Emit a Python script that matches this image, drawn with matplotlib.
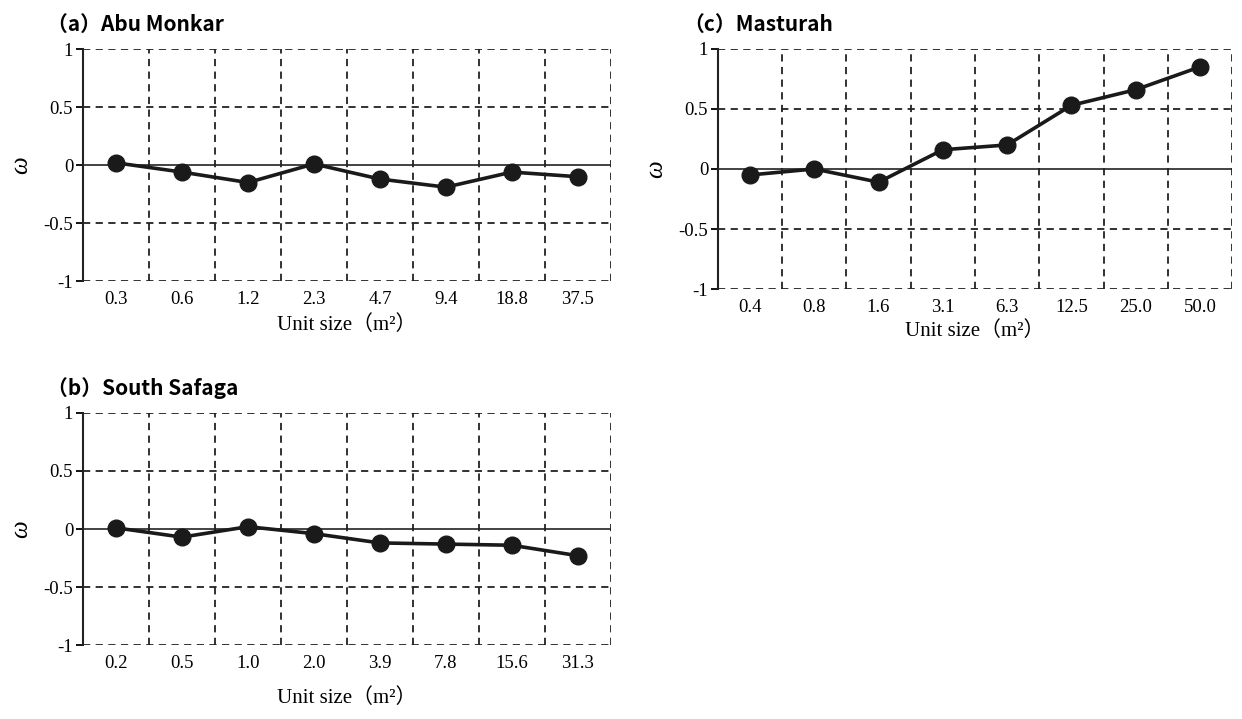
import matplotlib.pyplot as plt
import numpy as np

# unit sizes (m2) and omega values
abu_sizes = ["0.3", "0.6", "1.2", "2.3", "4.7", "9.4", "18.8", "37.5"]
abu_omega = [0.02, -0.06, -0.15, 0.01, -0.12, -0.19, -0.06, -0.10]

safaga_sizes = ["0.2", "0.5", "1.0", "2.0", "3.9", "7.8", "15.6", "31.3"]
safaga_omega = [0.01, -0.07, 0.02, -0.04, -0.12, -0.13, -0.14, -0.23]

masturah_sizes = ["0.4", "0.8", "1.6", "3.1", "6.3", "12.5", "25.0", "50.0"]
masturah_omega = [-0.05, 0.00, -0.11, 0.16, 0.20, 0.53, 0.66, 0.85]

yticks = [-1, -0.5, 0, 0.5, 1]
ytick_labels = ["-1", "-0.5", "0", "0.5", "1"]

serif = ["Liberation Serif", "Noto Sans CJK JP"]
gothic = ["Noto Sans CJK JP", "DejaVu Sans"]

fig = plt.figure(figsize=(12.42, 7.19), dpi=100)


def panel(rect, title, sizes, omega, xlabel_pad):
    ax = fig.add_axes(rect)
    x = np.arange(len(sizes)) + 0.5
    ax.set_xlim(0, len(sizes))
    ax.set_ylim(-1, 1)
    for k in range(1, len(sizes) + 1):
        ax.axvline(k, color="#222222", lw=1.3, ls=(0, (4, 3)), zorder=1)
    for yv in [-1, -0.5, 0.5, 1]:
        ax.axhline(yv, color="#222222", lw=1.3, ls=(0, (4, 3)), zorder=1)
    ax.axhline(0, color="#222222", lw=1.2, zorder=1)
    ax.plot(x, omega, color="#1a1a1a", lw=2.6, marker="o", ms=12, zorder=3, clip_on=False)
    for s in ["top", "right", "bottom"]:
        ax.spines[s].set_visible(False)
    ax.spines["left"].set_linewidth(1.5)
    ax.spines["left"].set_color("#222222")
    ax.set_xticks(x)
    ax.set_xticklabels(sizes, family=serif, fontsize=13.5)
    ax.tick_params(axis="x", length=0, pad=7)
    ax.set_yticks(yticks)
    ax.set_yticklabels(ytick_labels, family=serif, fontsize=13.5)
    ax.tick_params(axis="y", length=5, width=1.3, direction="out", pad=2)
    ax.set_ylabel("ω", family=serif, fontsize=18, style="italic", labelpad=8)
    ax.set_xlabel("Unit size（m²）", family=serif, fontsize=15, labelpad=xlabel_pad)
    ax.text(-0.068, 1.06, title, transform=ax.transAxes, family=gothic,
            fontsize=15, fontweight="bold", ha="left", va="bottom")
    return ax


panel([0.0668, 0.609, 0.425, 0.3227], "（a）Abu Monkar", abu_sizes, abu_omega, 5)
panel([0.0668, 0.1029, 0.425, 0.3227], "（b）South Safaga", safaga_sizes, safaga_omega, 12)
panel([0.578, 0.598, 0.414, 0.334], "（c）Masturah", masturah_sizes, masturah_omega, 4)

fig.savefig("out.png", dpi=100)
